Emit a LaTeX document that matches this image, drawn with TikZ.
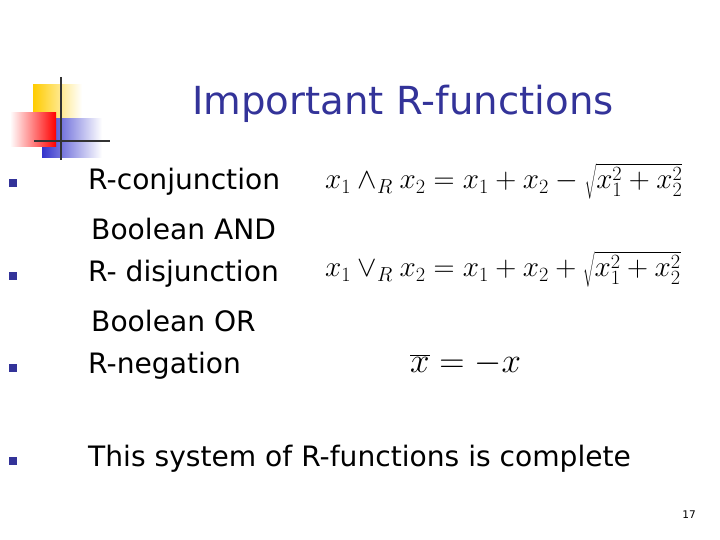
\documentclass[tikz,border=0pt]{standalone}
\usepackage{fontspec}
\setmainfont{DejaVu Sans}
\usepackage{graphicx}
\usetikzlibrary{positioning}
\definecolor{navy}{RGB}{51,51,153}
\definecolor{logoyellow}{RGB}{255,204,0}
\definecolor{logoblue}{RGB}{51,51,204}
\tikzset{
  bullet/.style={fill=navy, minimum size=7pt, inner sep=0pt},
  item/.style={anchor=west, font=\fontsize{24}{28}\selectfont, inner sep=0pt},
  formula/.style={anchor=west, inner sep=0pt, font=\fontsize{23}{27}\selectfont}
}
\begin{document}
\begin{tikzpicture}[x=0.03cm, y=-0.03cm]
  \useasboundingbox (0,0) rectangle (720,540);
  % logo
  \shade[left color=logoyellow, right color=white] (33,85) rectangle (82,119);
  \shade[left color=logoblue, right color=white] (42,119) rectangle (102,158);
  \shade[left color=white, right color=red] (10,113) rectangle (56,147);
  \draw[line width=2pt, black!80] (61,77) -- (61,160);
  \draw[line width=2pt, black!80] (34,141) -- (110,141);
  % title
  \node (title) [text=navy, font=\fontsize{33}{38}\selectfont] at (403,104) {Important R-functions};
  % items
  \node (b1) [bullet] at (13,183) {};
  \node (t1) [item] at (88,182) {R-conjunction};
  \node (t1b) [item] at (91,229) {Boolean AND};
  \node (b2) [bullet] at (13,276) {};
  \node (t2) [item] at (88,274) {R- disjunction};
  \node (t2b) [item] at (91,321) {Boolean OR};
  \node (b3) [bullet] at (13,368) {};
  \node (t3) [item] at (88,366) {R-negation};
  \node (b4) [bullet] at (13,461) {};
  \node (t4) [item] at (88,459) {This system of R-functions is complete};
  % formulas
  \node (f1) [formula] at (325,181) {$x_1\wedge_R x_2 = x_1 + x_2 - \sqrt{x_1^2+x_2^2}$};
  \node (f2) [formula] at (325,269) {$x_1\vee_R x_2 = x_1 + x_2 + \sqrt{x_1^2+x_2^2}$};
  \node (f3) [formula] at (410,364) {\scalebox{1.2}{$\overline{x} = -x$}};
  \node (page) [font=\fontsize{9}{11}\selectfont] at (689,515) {17};
\end{tikzpicture}
\end{document}
